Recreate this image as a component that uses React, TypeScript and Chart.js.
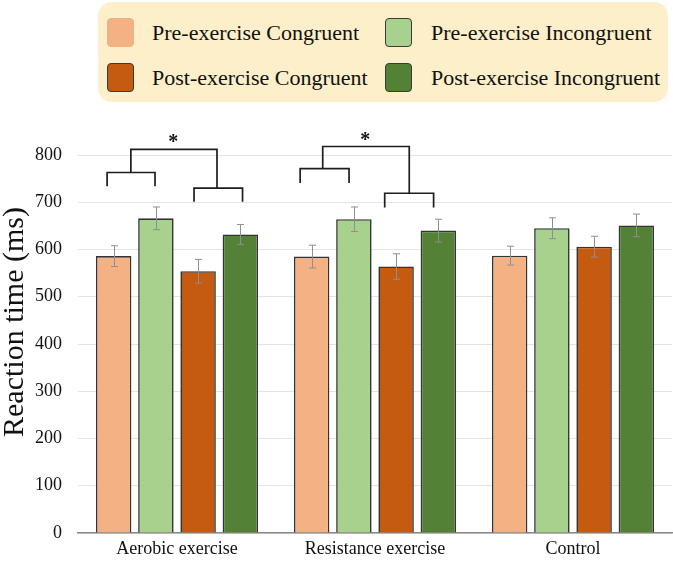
import React, { useEffect, useRef } from 'react';
import { Chart, registerables } from 'chart.js';

Chart.register(...registerables);

const categories = ['Aerobic exercise', 'Resistance exercise', 'Control'];
const seriesNames = [
  'Pre-exercise Congruent',
  'Pre-exercise Incongruent',
  'Post-exercise Congruent',
  'Post-exercise Incongruent',
];
const preCongruent = [586, 585, 587];
const preIncongruent = [666, 664, 645];
const postCongruent = [554, 564, 606];
const postIncongruent = [632, 640, 651];
const preCongruentErr = [22, 24, 20];
const preIncongruentErr = [24, 26, 22];
const postCongruentErr = [25, 27, 22];
const postIncongruentErr = [21, 24, 24];
const yTickMin = 0;
const yTickMax = 800;
const yTickStep = 100;

// significance brackets (category index, x offsets in category units, heights in ms)
const bracketCategory = [0, 1];
const bracketLeftX = [[-0.353, -0.111], [-0.378, -0.131]];
const bracketLeftY = [763, 771];
const bracketLeftLeg = [734, 741];
const bracketRightX = [[0.086, 0.331], [0.049, 0.296]];
const bracketRightY = [730, 719];
const bracketRightLeg = [701, 689];
const bracketTopX = [[-0.233, 0.202], [-0.264, 0.173]];
const bracketTopY = [812, 818];
const bracketStarX = [-0.019, -0.049];
const bracketStarY = [834, 839];
const bracketLabel = ['*', '*'];

const FONT = "'Liberation Serif', 'Times New Roman', serif";
const fills = ['#F4B183', '#A9D18E', '#C55A11', '#538135'];
const legendBorders = ['#F0B081', '#3a3a3a', '#3a3a3a', '#3a3a3a'];

const values = [preCongruent, preIncongruent, postCongruent, postIncongruent];
const errors = [preCongruentErr, preIncongruentErr, postCongruentErr, postIncongruentErr];

const errorBarPlugin = {
  id: 'errorBars',
  afterDatasetsDraw(chart: any) {
    const { ctx } = chart;
    const y = chart.scales.y;
    ctx.save();
    ctx.strokeStyle = '#8f8f8f';
    ctx.lineWidth = 1;
    chart.data.datasets.forEach((ds: any, i: number) => {
      const meta = chart.getDatasetMeta(i);
      meta.data.forEach((bar: any, j: number) => {
        const v = ds.data[j];
        const e = ds.errors[j];
        const x = Math.round(bar.x) + 0.5;
        const yt = y.getPixelForValue(v + e);
        const yb = y.getPixelForValue(v - e);
        ctx.beginPath();
        ctx.moveTo(x, yt);
        ctx.lineTo(x, yb);
        ctx.moveTo(x - 3.5, yt);
        ctx.lineTo(x + 3.5, yt);
        ctx.moveTo(x - 3.5, yb);
        ctx.lineTo(x + 3.5, yb);
        ctx.stroke();
      });
    });
    ctx.restore();
  },
};

const bracketPlugin = {
  id: 'brackets',
  afterDraw(chart: any) {
    const { ctx } = chart;
    const xs = chart.scales.x;
    const ys = chart.scales.y;
    ctx.save();
    ctx.strokeStyle = '#1e1e1e';
    ctx.lineWidth = 1.7;
    ctx.lineJoin = 'miter';
    bracketCategory.forEach((cat, k) => {
      const px = (o: number) => xs.getPixelForValue(cat + o);
      const py = (v: number) => ys.getPixelForValue(v);
      ctx.beginPath();
      ctx.moveTo(px(bracketLeftX[k][0]), py(bracketLeftLeg[k]));
      ctx.lineTo(px(bracketLeftX[k][0]), py(bracketLeftY[k]));
      ctx.lineTo(px(bracketLeftX[k][1]), py(bracketLeftY[k]));
      ctx.lineTo(px(bracketLeftX[k][1]), py(bracketLeftLeg[k]));
      ctx.moveTo(px(bracketRightX[k][0]), py(bracketRightLeg[k]));
      ctx.lineTo(px(bracketRightX[k][0]), py(bracketRightY[k]));
      ctx.lineTo(px(bracketRightX[k][1]), py(bracketRightY[k]));
      ctx.lineTo(px(bracketRightX[k][1]), py(bracketRightLeg[k]));
      ctx.moveTo(px(bracketTopX[k][0]), py(bracketLeftY[k]));
      ctx.lineTo(px(bracketTopX[k][0]), py(bracketTopY[k]));
      ctx.lineTo(px(bracketTopX[k][1]), py(bracketTopY[k]));
      ctx.lineTo(px(bracketTopX[k][1]), py(bracketRightY[k]));
      ctx.stroke();
      ctx.fillStyle = '#111';
      ctx.font = `bold 20px ${FONT}`;
      ctx.textAlign = 'center';
      ctx.textBaseline = 'middle';
      ctx.fillText(bracketLabel[k], px(bracketStarX[k]), py(bracketStarY[k]) + 4);
    });
    ctx.restore();
  },
};

const yTitlePlugin = {
  id: 'yTitle',
  afterDraw(chart: any) {
    const { ctx } = chart;
    ctx.save();
    ctx.translate(15, 322);
    ctx.rotate(-Math.PI / 2);
    ctx.fillStyle = '#111';
    ctx.font = `30px ${FONT}`;
    ctx.textAlign = 'center';
    ctx.textBaseline = 'middle';
    ctx.fillText('Reaction time (ms)', 0, 0);
    ctx.restore();
  },
};

export default function App() {
  const canvasRef = useRef<HTMLCanvasElement | null>(null);

  useEffect(() => {
    if (!canvasRef.current) return;
    const chart = new Chart(canvasRef.current, {
      type: 'bar',
      data: {
        labels: categories,
        datasets: seriesNames.map((name, i) => ({
          label: name,
          data: values[i],
          errors: errors[i],
          backgroundColor: fills[i],
          borderColor: '#333333',
          borderWidth: 1.6,
          categoryPercentage: 0.853,
          barPercentage: 0.84,
        })) as any,
      },
      options: {
        animation: false,
        responsive: false,
        maintainAspectRatio: false,
        layout: { padding: { top: 155, right: 1, left: 0, bottom: 0 } },
        plugins: {
          legend: { display: false },
          tooltip: { enabled: false },
        },
        scales: {
          x: {
            grid: { display: false, drawTicks: false },
            border: { display: true, color: '#8a8a8a', width: 1.5 },
            ticks: { font: { family: FONT, size: 18 }, color: '#111', padding: 5 },
            afterFit: (s: any) => {
              s.height = 29;
            },
          },
          y: {
            min: yTickMin,
            max: yTickMax,
            ticks: { stepSize: yTickStep, font: { family: FONT, size: 18 }, color: '#111', padding: 16 },
            grid: { color: '#e4e4e4', drawTicks: false, lineWidth: 1 },
            border: { display: false },
            afterFit: (s: any) => {
              s.width = 78;
            },
          },
        },
      },
      plugins: [errorBarPlugin, bracketPlugin, yTitlePlugin],
    });
    return () => chart.destroy();
  }, []);

  const rowTops = [16, 61];
  const colSwatch = [9, 287];
  const colText = [54, 333];

  return (
    <div style={{ position: 'absolute', left: 0, top: 0, width: 673, height: 562, background: '#fff' }}>
      <canvas ref={canvasRef} width={673} height={562} style={{ position: 'absolute', left: 0, top: 0 }} />
      <div
        style={{
          position: 'absolute',
          left: 98,
          top: 2,
          width: 570,
          height: 100,
          background: '#FCEFC9',
          borderRadius: 14,
        }}
      >
        {seriesNames.map((name, i) => {
          const row = i >= 2 ? 1 : 0;
          const col = i % 2;
          return (
            <React.Fragment key={name}>
              <div
                style={{
                  position: 'absolute',
                  left: colSwatch[col],
                  top: rowTops[row],
                  width: 25,
                  height: 27,
                  background: fills[i],
                  border: `1.5px solid ${legendBorders[i]}`,
                  borderRadius: 4,
                }}
              />
              <div
                style={{
                  position: 'absolute',
                  left: colText[col],
                  top: rowTops[row] + 2,
                  height: 26,
                  lineHeight: '26px',
                  fontFamily: FONT,
                  fontSize: 22,
                  color: '#111',
                  whiteSpace: 'nowrap',
                }}
              >
                {name}
              </div>
            </React.Fragment>
          );
        })}
      </div>
    </div>
  );
}
